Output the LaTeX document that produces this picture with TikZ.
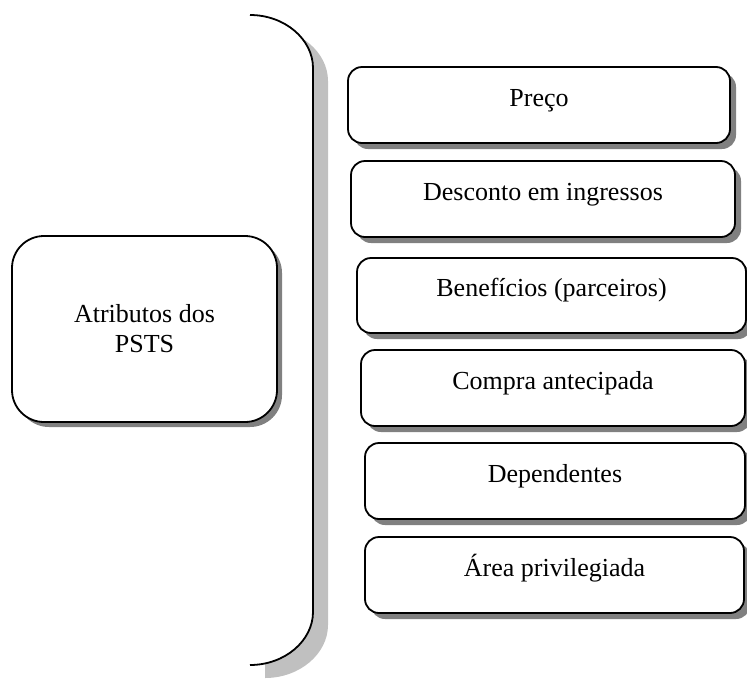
\documentclass[tikz,border=0pt]{standalone}
\usepackage{fontspec}
\setmainfont{Liberation Serif}
\usetikzlibrary{shadows}
\definecolor{shadowdark}{HTML}{808080}
\definecolor{shadowlight}{HTML}{C0C0C0}
\begin{document}
\begin{tikzpicture}[x=1pt,y=-1pt,
  boxfont/.style={font=\fontsize{26}{30}\selectfont},
  attrbox/.style={draw=black, line width=1.8pt, fill=white, rounded corners=14pt,
    minimum width=#1, minimum height=76pt, inner sep=0pt, boxfont,
    text height=12pt, text depth=10pt,
    general shadow={fill=shadowdark, shadow xshift=6pt, shadow yshift=-6pt}},
  mainbox/.style={draw=black, line width=1.8pt, fill=white, rounded corners=32pt,
    minimum width=265pt, minimum height=186pt, inner sep=0pt, boxfont, align=center,
    general shadow={fill=shadowdark, shadow xshift=5pt, shadow yshift=-5pt}},
  bracketline/.style={draw=black, line width=1.8pt}
]
\useasboundingbox (0,0) rectangle (747,678);

% bracket: shadow, white body, stroke
\fill[shadowlight] (265,28) .. controls (299.8,28) and (328,52.3) .. (328,81)
  -- (328,625) .. controls (328,653.7) and (299.8,678) .. (265,678) -- cycle;
\fill[white] (250,15) .. controls (284.8,15) and (313,39.3) .. (313,68)
  -- (313,612) .. controls (313,640.7) and (284.8,665) .. (250,665) -- cycle;
\draw[bracketline] (250,15) .. controls (284.8,15) and (313,39.3) .. (313,68)
  -- (313,612) .. controls (313,640.7) and (284.8,665) .. (250,665);

% main box
\node[mainbox] (main) at (144.5,329) {Atributos dos\\PSTS};

% attribute boxes
\node[attrbox=382pt] (preco) at (539,105) {Preço};
\node[attrbox=384pt] (desconto) at (543,199) {Desconto em ingressos};
\node[attrbox=389pt, minimum height=75pt] (beneficios) at (551.5,295.5) {Benefícios (parceiros)};
\node[attrbox=384pt] (compra) at (553,388) {Compra antecipada};
\node[attrbox=380pt] (dependentes) at (555,481) {Dependentes};
\node[attrbox=379pt] (area) at (554.5,575) {Área privilegiada};
\end{tikzpicture}
\end{document}
